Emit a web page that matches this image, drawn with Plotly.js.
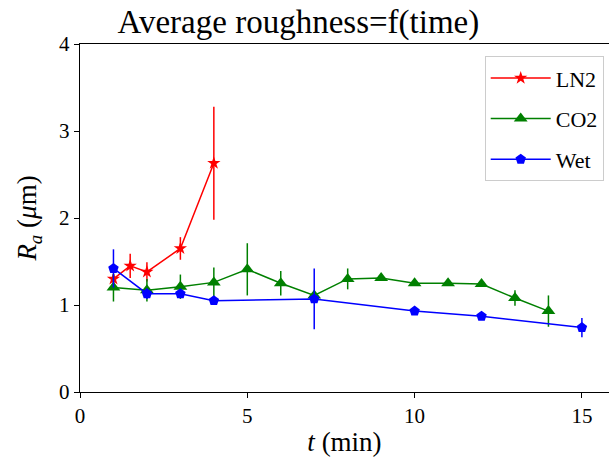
<!DOCTYPE html>
<html>
<head>
<meta charset="utf-8">
<script src="https://cdn.plot.ly/plotly-3.0.1.min.js"></script>
<style>html,body{margin:0;padding:0;background:#fff;}#chart{width:609px;height:470px;}</style>
</head>
<body>
<div id="chart"></div>
<script>
// LN2 series
const ln2X = [1, 1.5, 2, 3, 4];
const ln2Y = [1.30, 1.45, 1.38, 1.65, 2.63];
const ln2Err = [0.05, 0.14, 0.11, 0.13, 0.65];
// CO2 series
const co2X = [1, 2, 3, 4, 5, 6, 7, 8, 9, 10, 11, 12, 13, 14];
const co2Y = [1.20, 1.17, 1.21, 1.26, 1.41, 1.25, 1.11, 1.30, 1.31, 1.25, 1.25, 1.24, 1.08, 0.93];
const co2Err = [0.16, 0.13, 0.14, 0.17, 0.30, 0.14, 0.05, 0.12, 0.03, 0.03, 0.03, 0.03, 0.09, 0.18];
// Wet series
const wetX = [1, 2, 3, 4, 7, 10, 12, 15];
const wetY = [1.42, 1.13, 1.13, 1.05, 1.07, 0.93, 0.87, 0.74];
const wetErr = [0.22, 0.06, 0.05, 0.02, 0.35, 0.02, 0.02, 0.11];

const xTicks = [0, 5, 10, 15];
const yTicks = [0, 1, 2, 3, 4];

const serif = "Liberation Serif";

function trace(name, grp, x, y, err, color, symbol, size) {
  return {
    type: 'scatter', mode: 'lines+markers', name: name, legendgroup: grp,
    x: x, y: y,
    error_y: {type: 'data', array: err, visible: true, color: color, thickness: 1.5, width: 0},
    line: {color: color, width: 1.5},
    marker: {color: color, symbol: symbol, size: size, line: {width: 0}}
  };
}

const data = [
  trace('LN2', 'g1', ln2X, ln2Y, ln2Err, '#ff0000', 'star', 10),
  trace('CO2', 'g2', co2X, co2Y, co2Err, '#008000', 'triangle-up', 12),
  trace('Wet', 'g3', wetX, wetY, wetErr, '#0000ff', 'pentagon', 11)
];

const layout = {
  width: 609, height: 470,
  margin: {l: 80, r: 0, t: 44, b: 78},
  paper_bgcolor: '#fff', plot_bgcolor: '#fff',
  font: {family: serif, color: '#000', size: 21},
  title: {text: 'Average roughness=f(time)', font: {family: serif, size: 33, color: '#000'},
          x: 0.49, xanchor: 'center', y: 0.955, yanchor: 'middle', yref: 'container'},
  xaxis: {
    range: [0, 15.81], tickvals: xTicks, ticktext: xTicks.map(String),
    showgrid: false, zeroline: false, showline: true, linecolor: '#000', linewidth: 1.2, mirror: true,
    ticks: 'outside', ticklen: 5, tickwidth: 1, tickcolor: '#000',
    tickfont: {family: serif, size: 21},
    title: {text: '<i>t</i> (min)', font: {family: serif, size: 27}, standoff: 4}
  },
  yaxis: {
    range: [0, 4], tickvals: yTicks, ticktext: yTicks.map(String),
    showgrid: false, zeroline: false, showline: true, linecolor: '#000', linewidth: 1.2, mirror: true,
    ticks: 'outside', ticklen: 5, tickwidth: 1, tickcolor: '#000',
    tickfont: {family: serif, size: 21},
    title: {text: '<i>R</i><sub><i>a</i></sub> (<i>μ</i>m)', font: {family: serif, size: 27}, standoff: 14}
  },
  legend: {
    x: 0.99, xanchor: 'right', y: 0.965, yanchor: 'top',
    bgcolor: '#fff', bordercolor: '#ccc', borderwidth: 1,
    font: {family: serif, size: 22}, itemwidth: 60, tracegroupgap: 9
  },
  showlegend: true
};

Plotly.newPlot('chart', data, layout, {displayModeBar: false, staticPlot: true});
</script>
</body>
</html>
